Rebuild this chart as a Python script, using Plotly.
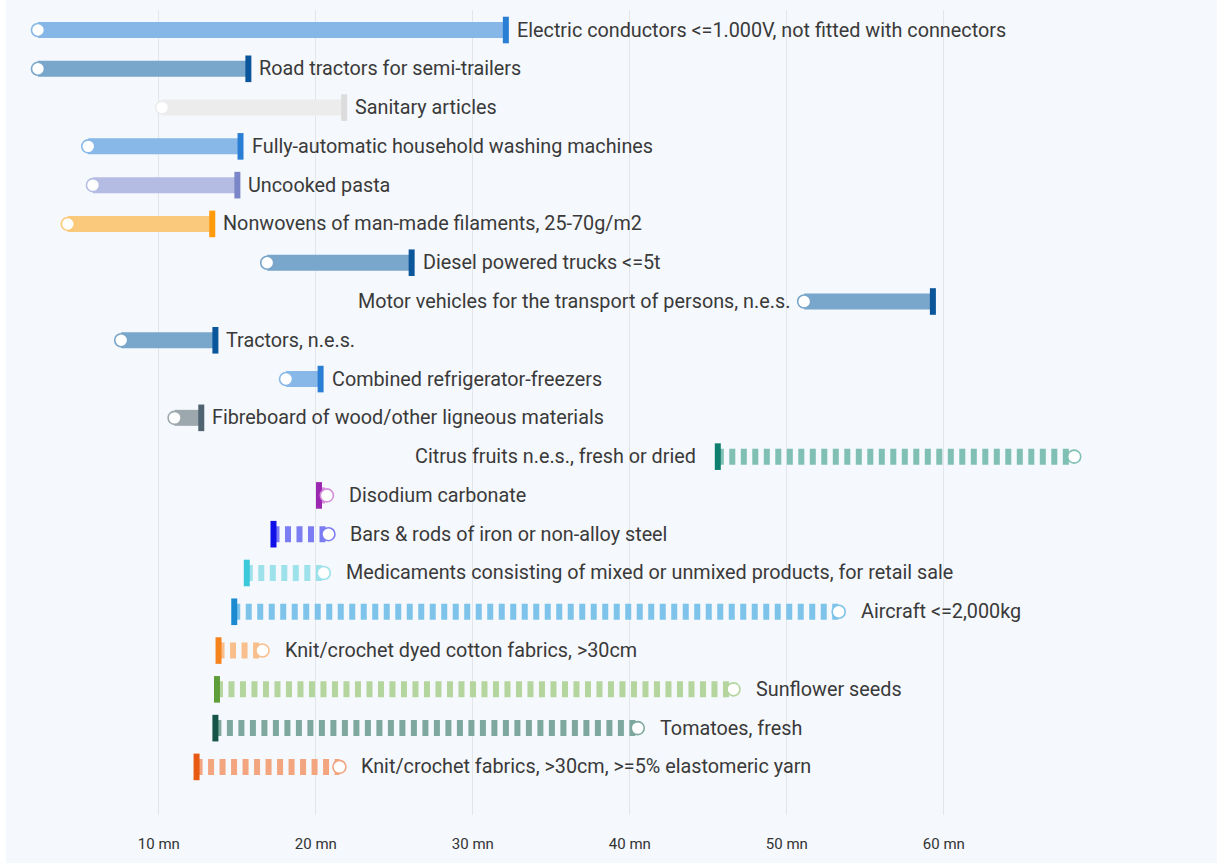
import plotly.graph_objects as go

# ---- data ----
categories = [
    "Electric conductors <=1.000V, not fitted with connectors",
    "Road tractors for semi-trailers",
    "Sanitary articles",
    "Fully-automatic household washing machines",
    "Uncooked pasta",
    "Nonwovens of man-made filaments, 25-70g/m2",
    "Diesel powered trucks <=5t",
    "Motor vehicles for the transport of persons, n.e.s.",
    "Tractors, n.e.s.",
    "Combined refrigerator-freezers",
    "Fibreboard of wood/other ligneous materials",
    "Citrus fruits n.e.s., fresh or dried",
    "Disodium carbonate",
    "Bars & rods of iron or non-alloy steel",
    "Medicaments consisting of mixed or unmixed products, for retail sale",
    "Aircraft <=2,000kg",
    "Knit/crochet dyed cotton fabrics, >30cm",
    "Sunflower seeds",
    "Tomatoes, fresh",
    "Knit/crochet fabrics, >30cm, >=5% elastomeric yarn",
]
previous_values = [2.3, 2.3, 10.2, 5.5, 5.8, 4.2, 16.9, 51.1, 7.6, 18.1,
                   11.0, 68.3, 20.7, 20.8, 20.5, 53.3, 16.6, 46.6, 40.5, 21.5]
current_values = [32.1, 15.7, 21.8, 15.2, 15.0, 13.4, 26.1, 59.3, 13.6, 20.3,
                  12.7, 45.6, 20.2, 17.3, 15.6, 14.8, 13.8, 13.7, 13.6, 12.4]
tick_values = [10, 20, 30, 40, 50, 60]
tick_labels = ["10 mn", "20 mn", "30 mn", "40 mn", "50 mn", "60 mn"]
left_label_rows = ["Motor vehicles for the transport of persons, n.e.s.",
                   "Citrus fruits n.e.s., fresh or dried"]

# ---- styles ----
bar_colors = ["#86b7e7", "#79a6cb", "#ececec", "#88b8e8", "#b4bce3", "#fbc97b",
              "#79a6cb", "#79a6cb", "#79a6cb", "#88b8e8", "#9da8ae",
              "#7fbfb4", "#d48fdb", "#7c7cf3", "#9de2eb", "#7ec3ea",
              "#f8bf8c", "#b4d59d", "#7ea89e", "#f2a57f"]
mark_colors = ["#2a7fd4", "#0b559b", "#dcdcdc", "#2a7fd4", "#7b86c8", "#ff9a0a",
               "#0b559b", "#0b559b", "#0b559b", "#2a7fd4", "#4f6470",
               "#0e7f6e", "#9c27b0", "#1010e8", "#3cc9dc", "#1c8ad1",
               "#f5841f", "#5e9e3a", "#155447", "#e85a14"]

fig = go.Figure()
rows = list(range(len(categories)))

for i in rows:
    p, c = previous_values[i], current_values[i]
    up = c >= p
    fig.add_trace(go.Scatter(
        x=[p, c] if up else [c, p], y=[i, i], mode="lines",
        line=dict(color=bar_colors[i], width=16, dash="solid" if up else "6px,5.5px"),
        hoverinfo="skip", showlegend=False,
    ))

fig.add_trace(go.Scatter(
    x=current_values, y=rows, mode="markers",
    marker=dict(symbol="line-ns", size=19, color=mark_colors,
                line=dict(color=mark_colors, width=6)),
    hoverinfo="skip", showlegend=False,
))
fig.add_trace(go.Scatter(
    x=previous_values, y=rows, mode="markers",
    marker=dict(symbol="circle", size=13, color="white",
                line=dict(color=bar_colors, width=1.6)),
    hoverinfo="skip", showlegend=False,
))

for i in rows:
    p, c = previous_values[i], current_values[i]
    up = c >= p
    left = categories[i] in left_label_rows
    if left:
        x = min(p, c)
        shift = -12 if up else -20
        anchor = "right"
    else:
        x = max(p, c)
        shift = 9 if up else 20
        anchor = "left"
    fig.add_annotation(x=x, y=i, text=categories[i], showarrow=False,
                       xanchor=anchor, yanchor="middle", xshift=shift,
                       font=dict(family="Roboto", size=19.8, color="#3a3a3a"))

fig.add_shape(type="rect", xref="paper", yref="paper", xsizemode="pixel",
              xanchor=0, x0=-8, x1=-2, y0=-0.2, y1=1.1,
              fillcolor="white", line=dict(width=0), layer="below")

fig.update_layout(
    width=1217, height=863,
    margin=dict(l=8, r=7, t=10, b=48),
    paper_bgcolor="#f5f8fc", plot_bgcolor="#f5f8fc",
    showlegend=False, hovermode=False,
    xaxis=dict(range=[0.39, 76.95], tickvals=tick_values, ticktext=tick_labels,
               showgrid=True, gridcolor="#e2e6eb", gridwidth=1, zeroline=False,
               showline=False, ticks="", ticklabelstandoff=18,
               tickfont=dict(family="Roboto", size=15, color="#333333")),
    yaxis=dict(range=[20.24, -0.516], showgrid=False, zeroline=False,
               showticklabels=False, showline=False, ticks=""),
)

fig.write_html("out.html", config={"displayModeBar": False},
               post_script="document.body.style.margin='0';")
